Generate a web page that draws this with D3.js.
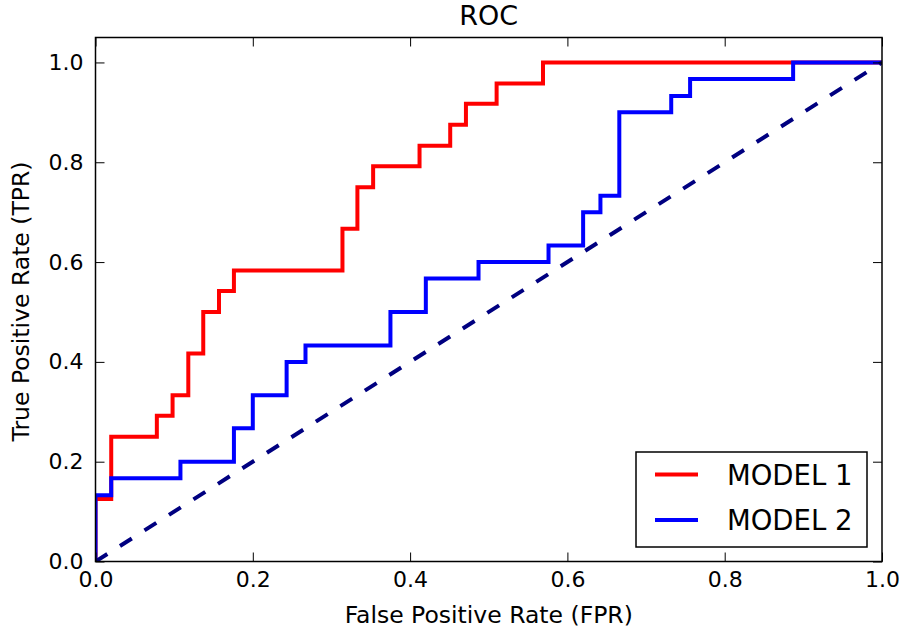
<!DOCTYPE html>
<html>
<head>
<meta charset="utf-8">
<script src="https://cdn.jsdelivr.net/npm/d3@7"></script>
<style>
  body { margin: 0; background: #fff; }
  text { font-family: "DejaVu Sans", sans-serif; fill: #000; }
</style>
</head>
<body>
<div id="chart"></div>
<script>
const width = 900;
const height = 637;
const margin = { top: 37.5, right: 18, bottom: 75.5, left: 95.5 };

// ROC curve vertices (fpr, tpr)
const fprModel1 = [0, 0, 0.02, 0.02, 0.078, 0.078, 0.098, 0.098, 0.118, 0.118, 0.137, 0.137,
    0.157, 0.157, 0.176, 0.176, 0.314, 0.314, 0.333, 0.333, 0.353, 0.353, 0.412, 0.412,
    0.451, 0.451, 0.471, 0.471, 0.51, 0.51, 0.569, 0.569, 1];
const tprModel1 = [0, 0.125, 0.125, 0.25, 0.25, 0.292, 0.292, 0.333, 0.333, 0.417, 0.417, 0.5,
    0.5, 0.542, 0.542, 0.583, 0.583, 0.667, 0.667, 0.75, 0.75, 0.792, 0.792, 0.833,
    0.833, 0.875, 0.875, 0.917, 0.917, 0.958, 0.958, 1, 1];

const fprModel2 = [0, 0, 0.02, 0.02, 0.108, 0.108, 0.176, 0.176, 0.2, 0.2, 0.243, 0.243,
    0.267, 0.267, 0.375, 0.375, 0.42, 0.42, 0.487, 0.487, 0.576, 0.576, 0.62, 0.62,
    0.642, 0.642, 0.666, 0.666, 0.732, 0.732, 0.756, 0.756, 0.887, 0.887, 1];
const tprModel2 = [0, 0.133, 0.133, 0.167, 0.167, 0.2, 0.2, 0.267, 0.267, 0.333, 0.333, 0.4,
    0.4, 0.433, 0.433, 0.5, 0.5, 0.567, 0.567, 0.6, 0.6, 0.633, 0.633, 0.7,
    0.7, 0.733, 0.733, 0.9, 0.9, 0.933, 0.933, 0.967, 0.967, 1, 1];

const chanceLine = [[0, 0], [1, 1]];

const seriesNames = ["MODEL 1", "MODEL 2"];
const seriesColors = ["#ff0000", "#0000ff"];
const xTicks = [0, 0.2, 0.4, 0.6, 0.8, 1.0];
const yTicks = [0, 0.2, 0.4, 0.6, 0.8, 1.0];

const innerW = width - margin.left - margin.right;
const innerH = height - margin.top - margin.bottom;

const svg = d3.select("#chart")
    .append("svg")
    .attr("width", width)
    .attr("height", height);

const g = svg.append("g")
    .attr("transform", `translate(${margin.left}, ${margin.top})`);

const xScale = d3.scaleLinear().domain([0, 1]).range([0, innerW]);
const yScale = d3.scaleLinear().domain([0, 1.05]).range([innerH, 0]);

g.append("clipPath").attr("id", "plot-clip")
    .append("rect").attr("width", innerW).attr("height", innerH);

const line = d3.line()
    .x(d => xScale(d[0]))
    .y(d => yScale(d[1]));

const series = [
    d3.zip(fprModel1, tprModel1),
    d3.zip(fprModel2, tprModel2)
];

const plot = g.append("g").attr("clip-path", "url(#plot-clip)");

series.forEach((pts, i) => {
    plot.append("path")
        .datum(pts)
        .attr("d", line)
        .attr("fill", "none")
        .attr("stroke", seriesColors[i])
        .attr("stroke-width", 4)
        .attr("stroke-linejoin", "miter");
});

plot.append("path")
    .datum(chanceLine)
    .attr("d", line)
    .attr("fill", "none")
    .attr("stroke", "#000080")
    .attr("stroke-width", 4)
    .attr("stroke-dasharray", "14,15");

// axes, ticks pointing inward on all four sides
const fmt = d3.format(".1f");

const xAxis = g.append("g")
    .attr("transform", `translate(0, ${innerH})`)
    .call(d3.axisBottom(xScale).tickValues(xTicks).tickFormat(fmt)
        .tickSizeInner(-9).tickSizeOuter(0).tickPadding(10));

const yAxis = g.append("g")
    .call(d3.axisLeft(yScale).tickValues(yTicks).tickFormat(fmt)
        .tickSizeInner(-9).tickSizeOuter(0).tickPadding(12));

const topAxis = g.append("g")
    .call(d3.axisTop(xScale).tickValues(xTicks).tickFormat("")
        .tickSizeInner(-9).tickSizeOuter(0));

const rightAxis = g.append("g")
    .attr("transform", `translate(${innerW}, 0)`)
    .call(d3.axisRight(yScale).tickValues(yTicks).tickFormat("")
        .tickSizeInner(-9).tickSizeOuter(0));

[xAxis, yAxis, topAxis, rightAxis].forEach(a => {
    a.select(".domain").remove();
    a.selectAll(".tick line").attr("stroke", "#000").attr("stroke-width", 1);
    a.selectAll("text")
        .style("font-family", "DejaVu Sans, sans-serif")
        .style("font-size", "22px")
        .attr("fill", "#000");
});

g.append("rect")
    .attr("width", innerW)
    .attr("height", innerH)
    .attr("fill", "none")
    .attr("stroke", "#000")
    .attr("stroke-width", 1.5);

// title and axis labels
svg.append("text")
    .attr("x", margin.left + innerW / 2)
    .attr("y", 25)
    .attr("text-anchor", "middle")
    .style("font-size", "27px")
    .text("ROC");

svg.append("text")
    .attr("x", margin.left + innerW / 2)
    .attr("y", 623)
    .attr("text-anchor", "middle")
    .style("font-size", "23.5px")
    .text("False Positive Rate (FPR)");

svg.append("text")
    .attr("transform", `translate(29, ${margin.top + innerH / 2 + 2}) rotate(-90)`)
    .attr("text-anchor", "middle")
    .style("font-size", "23.5px")
    .text("True Positive Rate (TPR)");

// legend
const legend = svg.append("g").attr("transform", "translate(636, 452)");

legend.append("rect")
    .attr("width", 231)
    .attr("height", 95)
    .attr("fill", "#fff")
    .attr("stroke", "#000")
    .attr("stroke-width", 1.5);

seriesNames.forEach((name, i) => {
    const yy = 22.5 + i * 45.5;
    legend.append("line")
        .attr("x1", 19).attr("x2", 62)
        .attr("y1", yy).attr("y2", yy)
        .attr("stroke", seriesColors[i])
        .attr("stroke-width", 4);
    legend.append("text")
        .attr("x", 91)
        .attr("y", yy + 10)
        .style("font-size", "27.5px")
        .text(name);
});
</script>
</body>
</html>
